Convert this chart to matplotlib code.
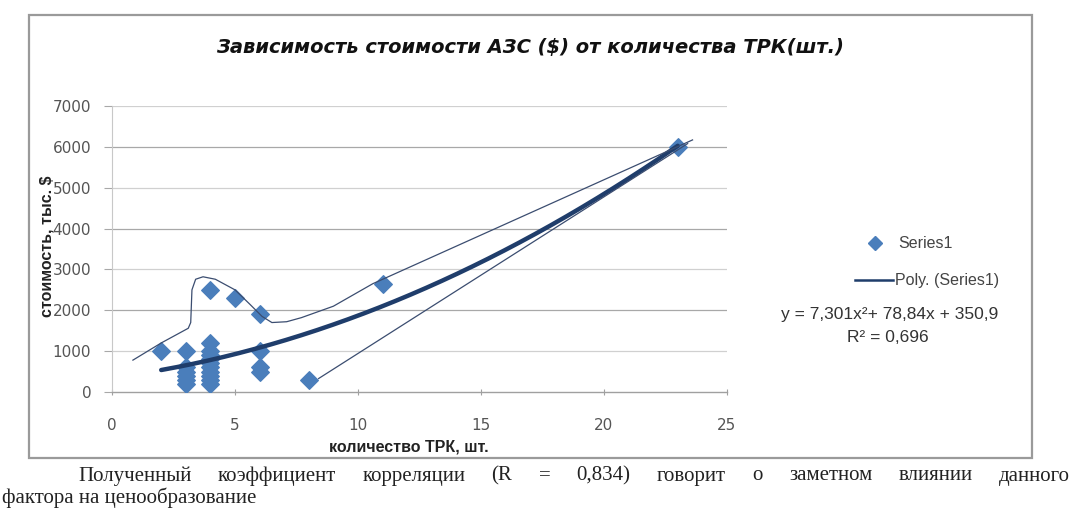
import matplotlib.pyplot as plt
import numpy as np
from matplotlib.lines import Line2D
from matplotlib.patches import Rectangle

# number of fuel dispensers (TRK) vs station cost, thousand $
trk_count = [2, 3, 3, 3, 3, 3, 3, 4, 4, 4, 4, 4, 4, 4, 4, 4, 4, 4, 5, 6, 6, 6, 6, 8, 11, 23]
cost = [1000, 1000, 600, 500, 400, 300, 200, 1200, 1000, 900, 800, 700, 600, 500, 400,
        300, 200, 2500, 2300, 1900, 1000, 600, 500, 300, 2650, 6000]

# polynomial trendline coefficients (a*x^2 + b*x + c) and R^2
poly_coef = [7.301, 78.84, 350.9]
r_squared = 0.696

# hand-drawn outline around the points
upper_x = [0.85, 2.0, 3.1, 3.2, 3.25, 3.4, 3.7, 4.2, 5.0, 5.6, 6.1, 6.5, 7.1, 7.7, 9.0, 10.6, 23.6]
upper_y = [780, 1200, 1560, 1700, 2500, 2760, 2820, 2760, 2500, 2150, 1850, 1700, 1720, 1820, 2100, 2650, 6170]
lower_x = [8.4, 23.4]
lower_y = [330, 6080]

x_ticks = [0, 5, 10, 15, 20, 25]
y_ticks = [0, 1000, 2000, 3000, 4000, 5000, 6000, 7000]

W, H = 1073, 511
fig = plt.figure(figsize=(W / 100, H / 100), dpi=100)
fig.patch.set_facecolor('white')

def fx(px):
    return px / W

def fy(py):
    return 1 - py / H

# chart frame
fig.add_artist(Rectangle((fx(29), fy(458)), fx(1032) - fx(29), fy(15) - fy(458),
                         transform=fig.transFigure, fill=False, ec='#9a9a9a', lw=1.6))

ax = fig.add_axes([fx(112), fy(392), fx(727) - fx(112), fy(106) - fy(392)])
ax.set_xlim(0, 25)
ax.set_ylim(0, 7000)

for v in y_ticks[1:]:
    ax.axhline(v, color='#a8a8a8' if v % 2000 == 0 else '#d0d0d0', lw=0.9, zorder=0)

for s in ['top', 'right']:
    ax.spines[s].set_visible(False)
ax.spines['left'].set_color('#c8c8c8')
ax.spines['bottom'].set_color('#a0a0a0')
ax.spines['bottom'].set_linewidth(1.0)

ax.set_xticks(x_ticks)
ax.set_yticks(y_ticks)
ax.tick_params(axis='x', direction='inout', length=5, color='#a0a0a0', pad=16,
               labelsize=11, labelcolor='#555555')
ax.tick_params(axis='y', direction='out', length=6, color='#a8a8a8', pad=9,
               labelsize=11, labelcolor='#555555')
for lab in ax.get_xticklabels() + ax.get_yticklabels():
    lab.set_fontfamily('DejaVu Sans')

ax.scatter(trk_count, cost, marker='D', s=80, color='#4a7ebb', edgecolors='#4a7ebb', zorder=3)

tx = np.linspace(min(trk_count), max(trk_count), 200)
ty = np.polyval(poly_coef, tx)
ax.plot(tx, ty, color='#1f3d6b', lw=3.2, solid_capstyle='round', zorder=4)

ax.plot(upper_x, upper_y, color='#3b4d70', lw=0.9, zorder=5)
ax.plot(lower_x, lower_y, color='#3b4d70', lw=0.9, zorder=5)

fig.text(fx(530), fy(48), 'Зависимость стоимости АЗС ($) от количества ТРК(шт.)',
         ha='center', va='center', fontsize=14, style='italic', weight='bold',
         family='DejaVu Sans', color='#111111')

fig.text(fx(47), fy(246), 'стоимость, тыс. $', rotation=90, ha='center', va='center',
         fontsize=11.5, weight='bold', family='Liberation Sans', color='#222222')
fig.text(fx(409), fy(447), 'количество ТРК, шт.', ha='center', va='center',
         fontsize=11.5, weight='bold', family='Liberation Sans', color='#222222')

# legend
fig.add_artist(Line2D([fx(875)], [fy(243)], marker='D', ms=7, color='#4a7ebb',
                      transform=fig.transFigure))
fig.text(fx(898), fy(243), 'Series1', ha='left', va='center', fontsize=11.5,
         family='Liberation Sans', color='#444444')
fig.add_artist(Line2D([fx(855), fx(893)], [fy(280), fy(280)], color='#1f3d6b', lw=1.8,
                      transform=fig.transFigure))
fig.text(fx(895), fy(280), 'Poly. (Series1)', ha='left', va='center', fontsize=11.5,
         family='Liberation Sans', color='#444444')

a, b, c = poly_coef
eq = 'y = {}x²+ {}x + {}'.format(str(a).replace('.', ','), str(b).replace('.', ','),
                                   str(c).replace('.', ','))
fig.text(fx(890), fy(314), eq, ha='center', va='center', fontsize=12.5,
         family='Liberation Sans', color='#333333')
fig.text(fx(888), fy(338), 'R² = ' + str(r_squared).replace('.', ','), ha='center',
         va='center', fontsize=12.5, family='Liberation Sans', color='#333333')

# paragraph below the chart, first line justified
words = ['Полученный', 'коэффициент', 'корреляции', '(R', '=', '0,834)', 'говорит', 'о',
         'заметном', 'влиянии', 'данного']
fig.canvas.draw()
r = fig.canvas.get_renderer()
txts = [fig.text(0, fy(476), w, ha='left', va='center', fontsize=15,
                 family='Liberation Serif', color='#222222') for w in words]
widths = [t.get_window_extent(r).width for t in txts]
left, right = 78, 1070
gap = (right - left - sum(widths)) / (len(words) - 1)
pos = left
for t, w in zip(txts, widths):
    t.set_x(fx(pos))
    pos += w + gap

fig.text(fx(2), fy(498), 'фактора на ценообразование', ha='left', va='center',
         fontsize=15, family='Liberation Serif', color='#222222')

fig.savefig('out.png', dpi=100)
